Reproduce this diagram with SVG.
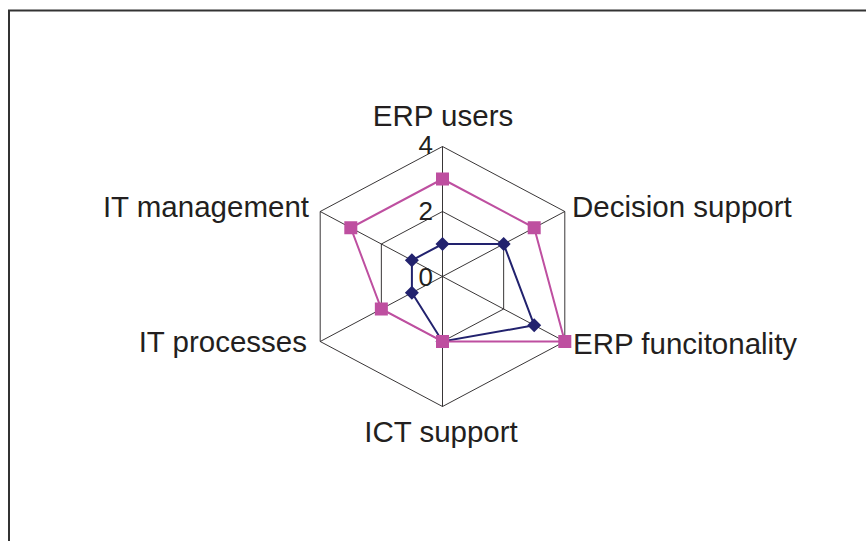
<svg xmlns="http://www.w3.org/2000/svg" xmlns:xlink="http://www.w3.org/1999/xlink" width="866" height="541" viewBox="0 0 866 541">
<style>
.lbl{font-family:"Liberation Sans",Arial,sans-serif;font-size:29.5px;fill:#231F20}
.num{font-family:"Liberation Sans",Arial,sans-serif;font-size:26px;fill:#231F20}
.grid{fill:none;stroke:#231F20;stroke-width:0.9}
.s1{fill:none;stroke:#22226E;stroke-width:2}
.s2{fill:none;stroke:#BE4FA0;stroke-width:2}
.m1{fill:#22226E}
.m2{fill:#BE4FA0}
</style>
<defs>
<rect id="sq" x="-6.5" y="-6.5" width="13" height="13"/>
<path id="dm" d="M0,-7 L7,0 L0,7 L-7,0Z"/>
</defs>
<rect x="0" y="0" width="866" height="541" fill="#fff"/>
<rect id="frame" x="9" y="10.5" width="900" height="600" fill="none" stroke="#333" stroke-width="2"/>
<g id="grid">
<polygon class="grid" points="442.5,146.5 564.8,211.5 564.8,341.5 442.5,406.5 320.2,341.5 320.2,211.5"/>
<polygon class="grid" points="442.5,211.5 503.65,244 503.65,309 442.5,341.5 381.35,309 381.35,244"/>
<path class="grid" d="M442.5,276.5 L442.5,146.5 M442.5,276.5 L564.8,211.5 M442.5,276.5 L564.8,341.5 M442.5,276.5 L442.5,406.5 M442.5,276.5 L320.2,341.5 M442.5,276.5 L320.2,211.5"/>
</g>
<g id="series1">
<polygon class="s1" points="442.5,244 503.65,244 534.2,325.25 442.5,341.5 411.9,292.75 411.9,260.25"/>
<g class="m1">
<use xlink:href="#dm" x="442.5" y="244"/>
<use xlink:href="#dm" x="503.65" y="244"/>
<use xlink:href="#dm" x="534.2" y="325.25"/>
<use xlink:href="#dm" x="442.5" y="341.5"/>
<use xlink:href="#dm" x="411.9" y="292.75"/>
<use xlink:href="#dm" x="411.9" y="260.25"/>
</g>
</g>
<g id="series2">
<polygon class="s2" points="442.5,179 534.2,227.75 564.8,341.5 442.5,341.5 381.35,309 350.8,227.75"/>
<g class="m2">
<use xlink:href="#sq" x="442.5" y="179"/>
<use xlink:href="#sq" x="534.2" y="227.75"/>
<use xlink:href="#sq" x="564.8" y="341.5"/>
<use xlink:href="#sq" x="442.5" y="341.5"/>
<use xlink:href="#sq" x="381.35" y="309"/>
<use xlink:href="#sq" x="350.8" y="227.75"/>
</g>
</g>
<g id="axis-values">
<text class="num" x="433" y="154" text-anchor="end">4</text>
<text class="num" x="433" y="220" text-anchor="end">2</text>
<text class="num" x="433" y="286" text-anchor="end">0</text>
</g>
<g id="labels">
<text id="n-erp-users" class="lbl" x="443" y="126" text-anchor="middle">ERP users</text>
<text id="n-decision" class="lbl" x="572" y="217" text-anchor="start">Decision support</text>
<text id="n-erp-func" class="lbl" x="573" y="354" text-anchor="start">ERP funcitonality</text>
<text id="n-ict" class="lbl" x="441" y="442" text-anchor="middle">ICT support</text>
<text id="n-itproc" class="lbl" x="307" y="352" text-anchor="end">IT processes</text>
<text id="n-itmgmt" class="lbl" x="309" y="217" text-anchor="end">IT management</text>
</g>
</svg>
